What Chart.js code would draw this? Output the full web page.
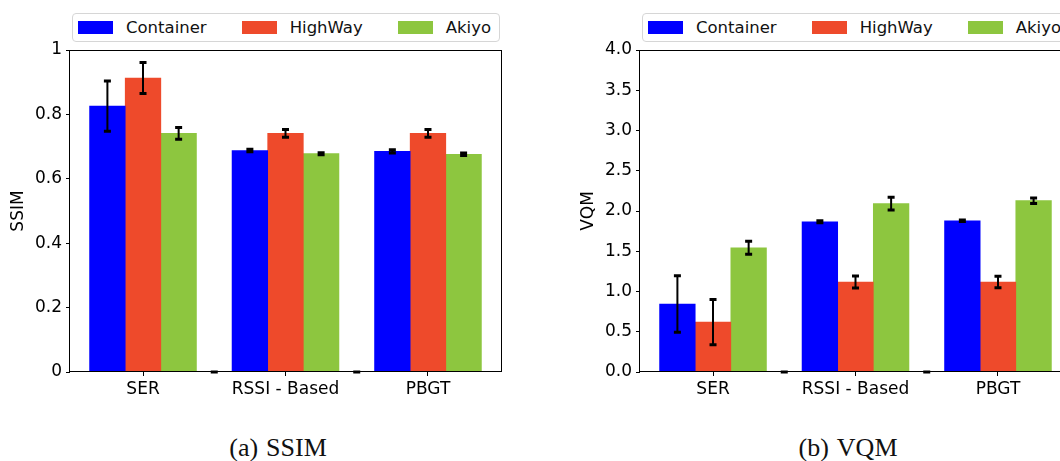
<!DOCTYPE html>
<html>
<head>
<meta charset="utf-8">
<script src="https://cdn.jsdelivr.net/npm/chart.js@4.4.1/dist/chart.umd.min.js"></script>
<style>
  html, body { margin: 0; padding: 0; background: #fff; }
  body { width: 1060px; height: 461px; overflow: hidden; position: relative; font-family: 'DejaVu Sans', sans-serif; }
  .panel { position: absolute; top: 0; width: 560px; height: 461px; }
  .panel canvas { position: absolute; left: 0; top: 0; }
  .legend { position: absolute; left: 72px; top: 13px; width: 428px; height: 29px; box-sizing: border-box;
            border: 1px solid #d6d6d6; border-radius: 4px; display: flex; align-items: center;
            padding-left: 5px; font-size: 16.5px; color: #111; white-space: nowrap; background: #fff; }
  .legend .item { display: flex; align-items: center; margin-right: 35px; }
  .legend .sw { width: 35px; height: 13px; margin-right: 13px; }
  .caption { position: absolute; left: 0; width: 556px; top: 433px; text-align: center;
             font-family: 'Liberation Serif', 'Times New Roman', serif; font-size: 26px; color: #111; }
  .caption span { margin-left: 8px; }
</style>
</head>
<body>
<div class="panel" style="left:0">
  <canvas id="ssim" width="530" height="401"></canvas>
  <div class="legend" id="leg-ssim"></div>
  <div class="caption">(a)<span>SSIM</span></div>
</div>
<div class="panel" style="left:570px">
  <canvas id="vqm" width="530" height="401"></canvas>
  <div class="legend" id="leg-vqm"></div>
  <div class="caption">(b)<span>VQM</span></div>
</div>
<script>
const categories = ['SER', 'RSSI - Based', 'PBGT'];
const seriesNames = ['Container', 'HighWay', 'Akiyo'];
const colores = ['#0000FF', '#EE4A2B', '#8DC63F'];

// SSIM
const ssimContainer = [0.826, 0.688, 0.685];
const ssimHighway = [0.913, 0.741, 0.741];
const ssimAkiyo = [0.741, 0.678, 0.676];
const ssimContainerErr = [0.078, 0.004, 0.005];
const ssimHighwayErr = [0.048, 0.012, 0.012];
const ssimAkiyoErr = [0.018, 0.003, 0.004];
const ssimTicks = [0, 0.2, 0.4, 0.6, 0.8, 1];

// VQM
const vqmContainer = [0.845, 1.867, 1.879];
const vqmHighway = [0.62, 1.118, 1.118];
const vqmAkiyo = [1.543, 2.091, 2.128];
const vqmContainerErr = [0.35, 0.012, 0.01];
const vqmHighwayErr = [0.28, 0.075, 0.07];
const vqmAkiyoErr = [0.08, 0.08, 0.035];
const vqmTicks = [0, 0.5, 1, 1.5, 2, 2.5, 3, 3.5, 4];

const barUnit = 0.25;

const errorBars = {
    id: 'errorBars',
    afterDatasetsDraw(chart) {
        const ctx = chart.ctx;
        const y = chart.scales.y;
        ctx.save();
        ctx.strokeStyle = '#000';
        chart.data.datasets.forEach((ds, di) => {
            if (!ds.errors) return;
            const meta = chart.getDatasetMeta(di);
            meta.data.forEach((bar, i) => {
                const v = ds.data[i].y;
                const e = ds.errors[i];
                const top = y.getPixelForValue(v + e);
                const bot = y.getPixelForValue(v - e);
                ctx.lineWidth = 2;
                ctx.beginPath();
                ctx.moveTo(bar.x, top);
                ctx.lineTo(bar.x, bot);
                ctx.stroke();
                ctx.lineWidth = 3;
                ctx.beginPath();
                ctx.moveTo(bar.x - 3.5, top); ctx.lineTo(bar.x + 3.5, top);
                ctx.moveTo(bar.x - 3.5, bot); ctx.lineTo(bar.x + 3.5, bot);
                ctx.stroke();
            });
        });
        ctx.restore();
    }
};

const frame = {
    id: 'frame',
    afterDraw(chart) {
        const a = chart.chartArea;
        const ctx = chart.ctx;
        ctx.save();
        ctx.strokeStyle = '#000';
        ctx.lineWidth = 1;
        ctx.strokeRect(Math.round(a.left) - 0.5, Math.round(a.top) + 0.5, Math.round(a.right - a.left) + 1, Math.round(a.bottom - a.top) - 1);
        ctx.restore();
    }
};

function crearGrafica(id, valores, errores, ticks, titulo, fmt) {
    const datasets = valores.map((serie, s) => ({
        label: seriesNames[s],
        data: serie.map((v, i) => ({ x: i + (s - 1) * barUnit, y: v })),
        errors: errores[s],
        backgroundColor: colores[s],
        borderWidth: 0,
        grouped: false,
        barPercentage: 1,
        categoryPercentage: 1
    }));
    // empty slots between groups (zero value, zero error)
    datasets.push({
        label: '',
        data: categories.slice(1).map((c, i) => ({ x: i + 0.5, y: 0 })),
        errors: categories.slice(1).map(() => 0),
        backgroundColor: 'rgba(0,0,0,0)',
        borderWidth: 0,
        grouped: false,
        barPercentage: 1,
        categoryPercentage: 1
    });

    const tickFont = { family: 'DejaVu Sans', size: 17 };
    const chart = new Chart(document.getElementById(id).getContext('2d'), {
        type: 'bar',
        data: { datasets },
        options: {
            responsive: false,
            animation: false,
            layout: { padding: { top: 50, right: 29, left: 0, bottom: 0 } },
            plugins: { legend: { display: false }, tooltip: { enabled: false } },
            scales: {
                x: {
                    type: 'linear',
                    offset: false,
                    min: -0.5125,
                    max: categories.length - 1 + 0.5125,
                    afterBuildTicks: sc => { sc.ticks = categories.map((c, i) => ({ value: i })); },
                    afterFit: sc => { sc.height = 29; },
                    grid: { drawOnChartArea: false, drawTicks: true, tickLength: 4, color: '#000', offset: false },
                    border: { display: false },
                    ticks: {
                        autoSkip: false, maxRotation: 0, padding: 3, color: '#000', font: tickFont,
                        callback: v => categories[Math.round(v)]
                    }
                },
                y: {
                    min: ticks[0],
                    max: ticks[ticks.length - 1],
                    afterBuildTicks: sc => { sc.ticks = ticks.map(v => ({ value: v })); },
                    afterFit: sc => { sc.width = 70; },
                    grid: { drawOnChartArea: false, drawTicks: true, tickLength: 4, color: '#000' },
                    border: { display: false },
                    ticks: { padding: 4, color: '#000', font: tickFont, callback: fmt },
                    title: { display: true, text: titulo, color: '#000', font: tickFont, padding: { top: 8, bottom: 0 } }
                }
            }
        },
        plugins: [errorBars, frame]
    });
    return chart;
}

function crearLeyenda(id, chart) {
    const cont = document.getElementById(id);
    chart.data.datasets.filter(ds => ds.label).forEach(ds => {
        const item = document.createElement('DIV');
        item.className = 'item';
        const sw = document.createElement('DIV');
        sw.className = 'sw';
        sw.style.background = ds.backgroundColor;
        const txt = document.createElement('SPAN');
        txt.textContent = ds.label;
        item.appendChild(sw);
        item.appendChild(txt);
        cont.appendChild(item);
    });
}

const chartSsim = crearGrafica('ssim',
    [ssimContainer, ssimHighway, ssimAkiyo],
    [ssimContainerErr, ssimHighwayErr, ssimAkiyoErr],
    ssimTicks, 'SSIM', v => String(v));
crearLeyenda('leg-ssim', chartSsim);

const chartVqm = crearGrafica('vqm',
    [vqmContainer, vqmHighway, vqmAkiyo],
    [vqmContainerErr, vqmHighwayErr, vqmAkiyoErr],
    vqmTicks, 'VQM', v => v.toFixed(1));
crearLeyenda('leg-vqm', chartVqm);
</script>
</body>
</html>
